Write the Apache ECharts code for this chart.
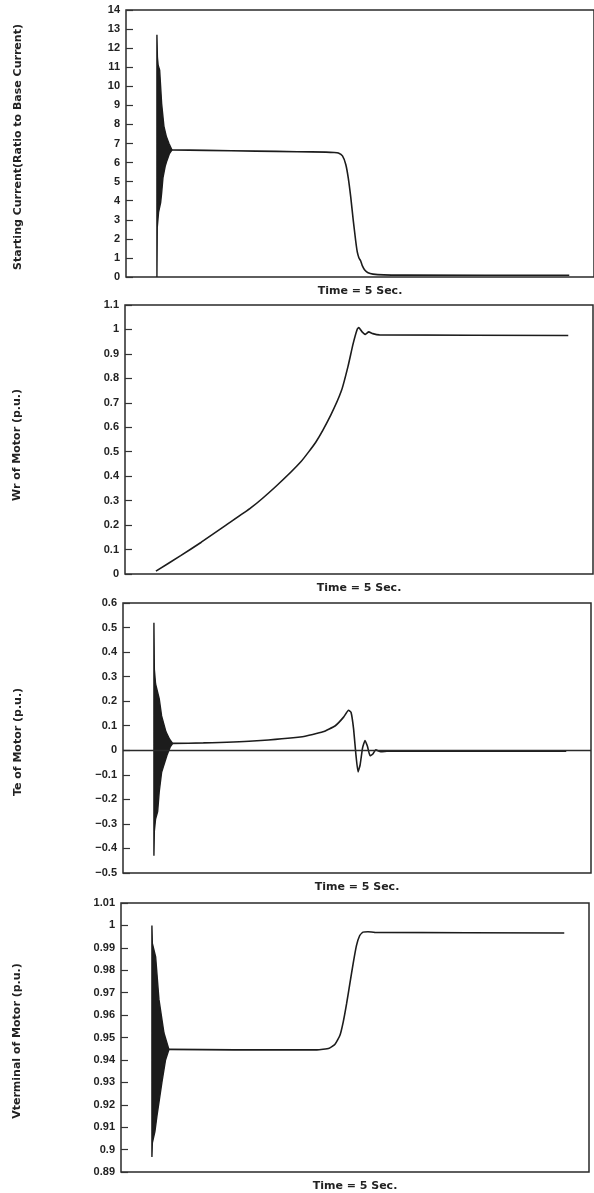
<!DOCTYPE html>
<html>
<head>
<meta charset="utf-8">
<script src="https://cdn.jsdelivr.net/npm/echarts@6/dist/echarts.min.js"></script>
<style>
  html, body { margin: 0; padding: 0; background: #ffffff; }
  #chart { width: 594px; height: 1193px; }
</style>
</head>
<body>
<div id="chart"></div>
<script>
// Motor starting transient, time in seconds from switch-on (simulation length 5 s)

// --- Starting current (ratio to base current) ---
const curHiT = [0, 0.006, 0.015, 0.033, 0.057, 0.085, 0.115, 0.146, 0.182];
const curHi  = [12.7, 11.5, 11.1, 10.85, 9.1, 7.9, 7.35, 7.0, 6.66];
const curLoT = [0, 0.004, 0.02, 0.045, 0.057, 0.073, 0.1, 0.121, 0.15, 0.182];
const curLo  = [0, 2.6, 3.4, 3.9, 4.4, 5.2, 5.8, 6.1, 6.45, 6.66];
const curT = [0.182, 0.6, 1.2, 1.7, 2.05, 2.15, 2.2, 2.25, 2.29, 2.32, 2.35, 2.38, 2.41, 2.43, 2.45, 2.47, 2.49, 2.52, 2.56, 2.62, 2.75, 3.0, 5.0];
const curV = [6.66, 6.64, 6.6, 6.57, 6.55, 6.53, 6.5, 6.35, 5.9, 5.2, 4.2, 3.0, 1.9, 1.3, 1.0, 0.85, 0.6, 0.37, 0.22, 0.15, 0.11, 0.1, 0.09];

// --- Rotor speed Wr (p.u.) ---
const wrT = [0, 0.3, 0.55, 0.85, 1.15, 1.46, 1.76, 1.94, 2.12, 2.25, 2.33, 2.39, 2.44, 2.46, 2.5, 2.54, 2.58, 2.63, 2.71, 5.0];
const wrV = [0.012, 0.075, 0.13, 0.2, 0.27, 0.36, 0.46, 0.54, 0.65, 0.75, 0.85, 0.94, 1.0, 1.008, 0.99, 0.98, 0.99, 0.983, 0.978, 0.975];

// --- Electromagnetic torque Te (p.u.) ---
const teHiT = [0, 0.005, 0.02, 0.064, 0.093, 0.146, 0.19, 0.227];
const teHi  = [0.52, 0.33, 0.27, 0.21, 0.14, 0.075, 0.045, 0.028];
const teLoT = [0, 0.005, 0.02, 0.045, 0.064, 0.093, 0.158, 0.2, 0.227];
const teLo  = [-0.43, -0.33, -0.28, -0.25, -0.17, -0.09, -0.02, 0.015, 0.028];
const teT = [0.227, 0.6, 1.2, 1.8, 2.05, 2.2, 2.3, 2.36, 2.39, 2.42, 2.45, 2.475, 2.5, 2.53, 2.56, 2.59, 2.62, 2.655, 2.69, 2.75, 2.85, 3.2, 5.0];
const teV = [0.028, 0.03, 0.038, 0.055, 0.075, 0.1, 0.135, 0.163, 0.155, 0.09, -0.02, -0.088, -0.06, 0.01, 0.04, 0.015, -0.022, -0.015, 0.002, -0.006, -0.003, -0.004, -0.004];

// --- Terminal voltage (p.u.) ---
const vtHiT = [0, 0.005, 0.045, 0.085, 0.146, 0.206];
const vtHi  = [1.0, 0.992, 0.986, 0.967, 0.952, 0.9447];
const vtLoT = [0, 0.005, 0.036, 0.061, 0.121, 0.165, 0.206];
const vtLo  = [0.8967, 0.903, 0.908, 0.915, 0.93, 0.94, 0.9447];
const vtT = [0.206, 1.0, 2.0, 2.15, 2.22, 2.28, 2.32, 2.36, 2.4, 2.44, 2.48, 2.52, 2.56, 2.62, 2.7, 5.0];
const vtV = [0.9447, 0.9445, 0.9445, 0.9452, 0.947, 0.951, 0.957, 0.965, 0.974, 0.983, 0.991, 0.9955, 0.997, 0.9972, 0.9969, 0.9966];

// --- Axis definitions ---
const yTitles = [
  'Starting Current(Ratio to Base Current)',
  'Wr of Motor (p.u.)',
  'Te of Motor (p.u.)',
  'Vterminal of Motor (p.u.)'
];
const yMin = [0, 0, -0.5, 0.89];
const yMax = [14, 1.1, 0.6, 1.01];
const yStep = [1, 0.1, 0.1, 0.01];
const timeLabel = 'Time = 5 Sec.';

const INK = '#1c1c1c';
const FONT = '"Liberation Sans", Arial, Helvetica, sans-serif';
const WIDE = '"DejaVu Sans", Verdana, sans-serif';

// panel boxes (page pixels)
const boxes = [
  { left: 126, top: 10, height: 267 },
  { left: 125, top: 305, height: 269 },
  { left: 123, top: 603, height: 270 },
  { left: 121, top: 903, height: 270 }
];
const titleCentre = [
  { x: 18, y: 147 }, { x: 17, y: 445 }, { x: 18, y: 742 }, { x: 17, y: 1041 }
];

const zip = (t, v) => t.map((x, i) => [x, v[i]]);

function fmt(v) {
  const s = String(parseFloat(v.toFixed(2)));
  return s.replace('-', '\u2212');
}

function band(idx, hiT, hi, loT, lo) {
  return {
    type: 'custom',
    xAxisIndex: idx, yAxisIndex: idx,
    silent: true,
    data: [[0, 0]],
    renderItem: function (params, api) {
      const pts = [];
      hiT.forEach((t, i) => pts.push(api.coord([t, hi[i]])));
      for (let i = loT.length - 1; i >= 0; i--) pts.push(api.coord([loT[i], lo[i]]));
      return {
        type: 'polygon',
        shape: { points: pts },
        style: { fill: INK, stroke: INK, lineWidth: 1.4 }
      };
    }
  };
}

function trace(idx, t, v, extra) {
  return Object.assign({
    type: 'line',
    xAxisIndex: idx, yAxisIndex: idx,
    data: zip(t, v),
    showSymbol: false,
    smooth: 0.15,
    silent: true,
    lineStyle: { color: INK, width: 1.6 }
  }, extra || {});
}

const chart = echarts.init(document.getElementById('chart'), null, { renderer: 'canvas' });

const option = {
  backgroundColor: '#ffffff',
  animation: false,
  grid: boxes.map(b => ({
    left: b.left, top: b.top, width: 468, height: b.height,
    show: true, borderColor: '#2a2a2a', borderWidth: 1.5, backgroundColor: 'transparent'
  })),
  xAxis: boxes.map((b, i) => ({
    type: 'value', gridIndex: i, min: -0.375, max: 5.3,
    axisLine: { show: false, onZero: false }, axisTick: { show: false },
    axisLabel: { show: false }, splitLine: { show: false },
    name: timeLabel, nameLocation: 'middle', nameGap: 9,
    nameTextStyle: { fontFamily: WIDE, fontWeight: 'bold', fontSize: 11, color: '#222', verticalAlign: 'top' }
  })),
  yAxis: boxes.map((b, i) => ({
    type: 'value', gridIndex: i,
    min: yMin[i], max: yMax[i], interval: yStep[i],
    axisLine: { show: false, onZero: false },
    axisTick: { show: true, inside: true, length: 7, lineStyle: { color: '#333', width: 1.2 } },
    axisLabel: { fontFamily: FONT, fontWeight: 'bold', fontSize: 11, color: '#222', margin: 6, formatter: fmt },
    splitLine: { show: false }
  })),
  graphic: yTitles.map((txt, i) => ({
    type: 'text',
    x: titleCentre[i].x, y: titleCentre[i].y,
    rotation: Math.PI / 2,
    style: {
      text: txt, fill: '#222', font: 'bold 11px ' + WIDE,
      textAlign: 'center', textVerticalAlign: 'middle'
    }
  })),
  series: [
    band(0, curHiT, curHi, curLoT, curLo),
    trace(0, curT, curV),
    trace(1, wrT, wrV),
    band(2, teHiT, teHi, teLoT, teLo),
    trace(2, teT, teV, {
      markLine: {
        silent: true, symbol: 'none', label: { show: false },
        lineStyle: { color: '#2a2a2a', width: 1.4, type: 'solid' },
        data: [{ yAxis: 0 }]
      }
    }),
    band(3, vtHiT, vtHi, vtLoT, vtLo),
    trace(3, vtT, vtV)
  ]
};

chart.setOption(option);
</script>
</body>
</html>
